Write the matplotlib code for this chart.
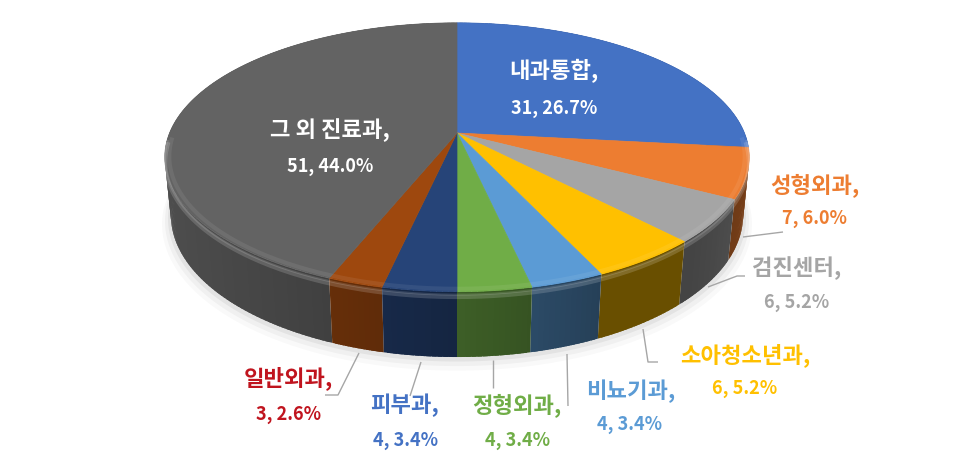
import numpy as np
import matplotlib
matplotlib.use("Agg")
import matplotlib.pyplot as plt
from matplotlib.patches import Polygon

plt.rcParams['font.family'] = ['Noto Sans CJK KR', 'DejaVu Sans']

# ---- data ----
categories = ['내과통합', '성형외과', '검진센터', '소아청소년과', '비뇨기과',
              '정형외과', '피부과', '일반외과', '그 외 진료과']
counts = [31, 7, 6, 6, 4, 4, 4, 3, 51]

# ---- styles ----
top_colors = ['#4472C4', '#ED7D31', '#A5A5A5', '#FFC000', '#5B9BD5',
              '#70AD47', '#264478', '#9E480E', '#636363']
label_colors = ['white', '#ED7D31', '#A5A5A5', '#FFC000', '#5B9BD5',
                '#70AD47', '#4472C4', '#C0141E', 'white']
# label centres (name line, value line) in pixel coordinates
label_pos = [((554, 71), (554, 108)),
             ((815, 185), (814, 219)),
             ((797, 268), (797, 302)),
             ((745, 355), (745, 388)),
             ((631, 391), (630, 425)),
             ((517, 405), (518, 441)),
             ((405, 405), (406, 440)),
             ((288, 378), (289, 414)),
             ((330, 130), (330, 166))]
# leader lines (polyline vertices) for outside labels
leaders = {1: [(743, 237), (783, 232)],
           2: [(708, 287), (737, 276), (745, 276)],
           3: [(643, 329), (648, 362), (658, 362)],
           4: [(567, 354), (568, 406)],
           5: [(493, 360), (493, 388)],
           6: [(421, 362), (410, 396)],
           7: [(359, 353), (338, 395), (325, 395)]}

W, H = 973, 462
fig = plt.figure(figsize=(W / 100, H / 100), dpi=100)
ax = fig.add_axes([0, 0, 1, 1])
ax.set_xlim(0, W)
ax.set_ylim(H, 0)
ax.axis('off')

# ---- perspective camera for the 3D disc ----
elev = np.radians(26.9)
dist = 4.94
scale = 1420.0
cx, cy = 457.0, 133.0
thick = 0.227


def project(theta_deg, r, z):
    t = np.radians(theta_deg)
    x3 = r * np.sin(t)
    y3 = r * np.cos(t)
    vy = y3 + dist * np.cos(elev)
    vz = z - dist * np.sin(elev)
    depth = vy * np.cos(elev) - vz * np.sin(elev)
    up = vy * np.sin(elev) + vz * np.cos(elev)
    return cx + scale * x3 / depth, cy - scale * up / depth, depth


def rim(ths, r, z):
    return [project(t, r, z)[:2] for t in ths]


total = sum(counts)
bounds = np.concatenate([[0], np.cumsum(counts)]) / total * 360.0


def side_factor(th):
    th = th % 360
    if 155 <= th <= 260:
        return 0.41 + 0.37 * np.sin(np.radians((th - 155) / 105 * 90))
    if th > 260:
        return 0.78
    return 0.41 + 0.1 * np.clip((135 - th) / 30, 0, 1)


def shade(color, f):
    rgb = np.array(matplotlib.colors.to_rgb(color))
    return tuple(np.clip(rgb * f, 0, 1))


# faint soft shadow just below the front of the disc
front = np.linspace(95, 265, 160)
for grow, a in [(1.030, 0.025), (1.020, 0.035), (1.010, 0.05)]:
    outer = [(x, y + (grow - 1) * 250) for x, y in rim(front, grow, -thick)]
    inner = rim(front[::-1], 0.99, -thick * 0.6)
    ax.add_patch(Polygon(outer + inner, closed=True, facecolor='black',
                         edgecolor='none', alpha=a, zorder=1))

# side wall, drawn far to near in thin overlapping strips
strips = []
step = 1.0
for i, c in enumerate(top_colors):
    a0, a1 = bounds[i], bounds[i + 1]
    n = max(2, int(np.ceil((a1 - a0) / step)))
    edges = np.linspace(a0, a1, n + 1)
    for s0, s1 in zip(edges[:-1], edges[1:]):
        mid = 0.5 * (s0 + s1)
        _, _, dep = project(mid, 1.0, 0)
        e0 = max(a0, s0 - 0.4)
        e1 = min(a1, s1 + 0.4)
        strips.append((dep, e0, e1, c, mid))
strips.sort(key=lambda s: -s[0])
for dep, s0, s1, c, mid in strips:
    f = side_factor(mid)
    ths = np.linspace(s0, s1, 3)
    p = rim(ths, 1.0, 0) + rim(ths[::-1], 1.0, -thick)
    col = shade(c, f)
    ax.add_patch(Polygon(p, closed=True, facecolor=col, edgecolor='none',
                         zorder=2))

# top face of every slice
for i, c in enumerate(top_colors):
    a0, a1 = bounds[i], bounds[i + 1]
    ths = np.linspace(a0, a1, max(3, int((a1 - a0) * 2)))
    pts = [(cx, cy)] + rim(ths, 1.0, 0)
    ax.add_patch(Polygon(pts, closed=True, facecolor=c, edgecolor=c,
                         linewidth=0.5, zorder=3))

# rounded bevel: soft highlight along the front rim
bev = np.linspace(92, 268, 240)
for r, z, lw, a in [(1.0, -0.018, 3.0, 0.16), (1.0, -0.01, 1.5, 0.14),
                    (0.985, 0.0, 3.0, 0.07)]:
    xs, ys = zip(*rim(bev, r, z))
    ax.plot(xs, ys, color='white', lw=lw, alpha=a, zorder=3.5,
            solid_capstyle='butt')

# leader lines
for i, verts in leaders.items():
    xs, ys = zip(*verts)
    ax.plot(xs, ys, color='#A6A6A6', lw=1.0, zorder=4, solid_capstyle='butt')

# data labels
for i, name in enumerate(categories):
    pct = counts[i] / total * 100
    (x1, y1), (x2, y2) = label_pos[i]
    ax.text(x1, y1, f'{name},', color=label_colors[i], fontsize=16,
            fontweight='bold', ha='center', va='center', zorder=5)
    ax.text(x2, y2, f'{counts[i]}, {pct:.1f}%', color=label_colors[i],
            fontsize=13, fontweight='bold', ha='center', va='center', zorder=5)

fig.savefig('out.png', dpi=100)
